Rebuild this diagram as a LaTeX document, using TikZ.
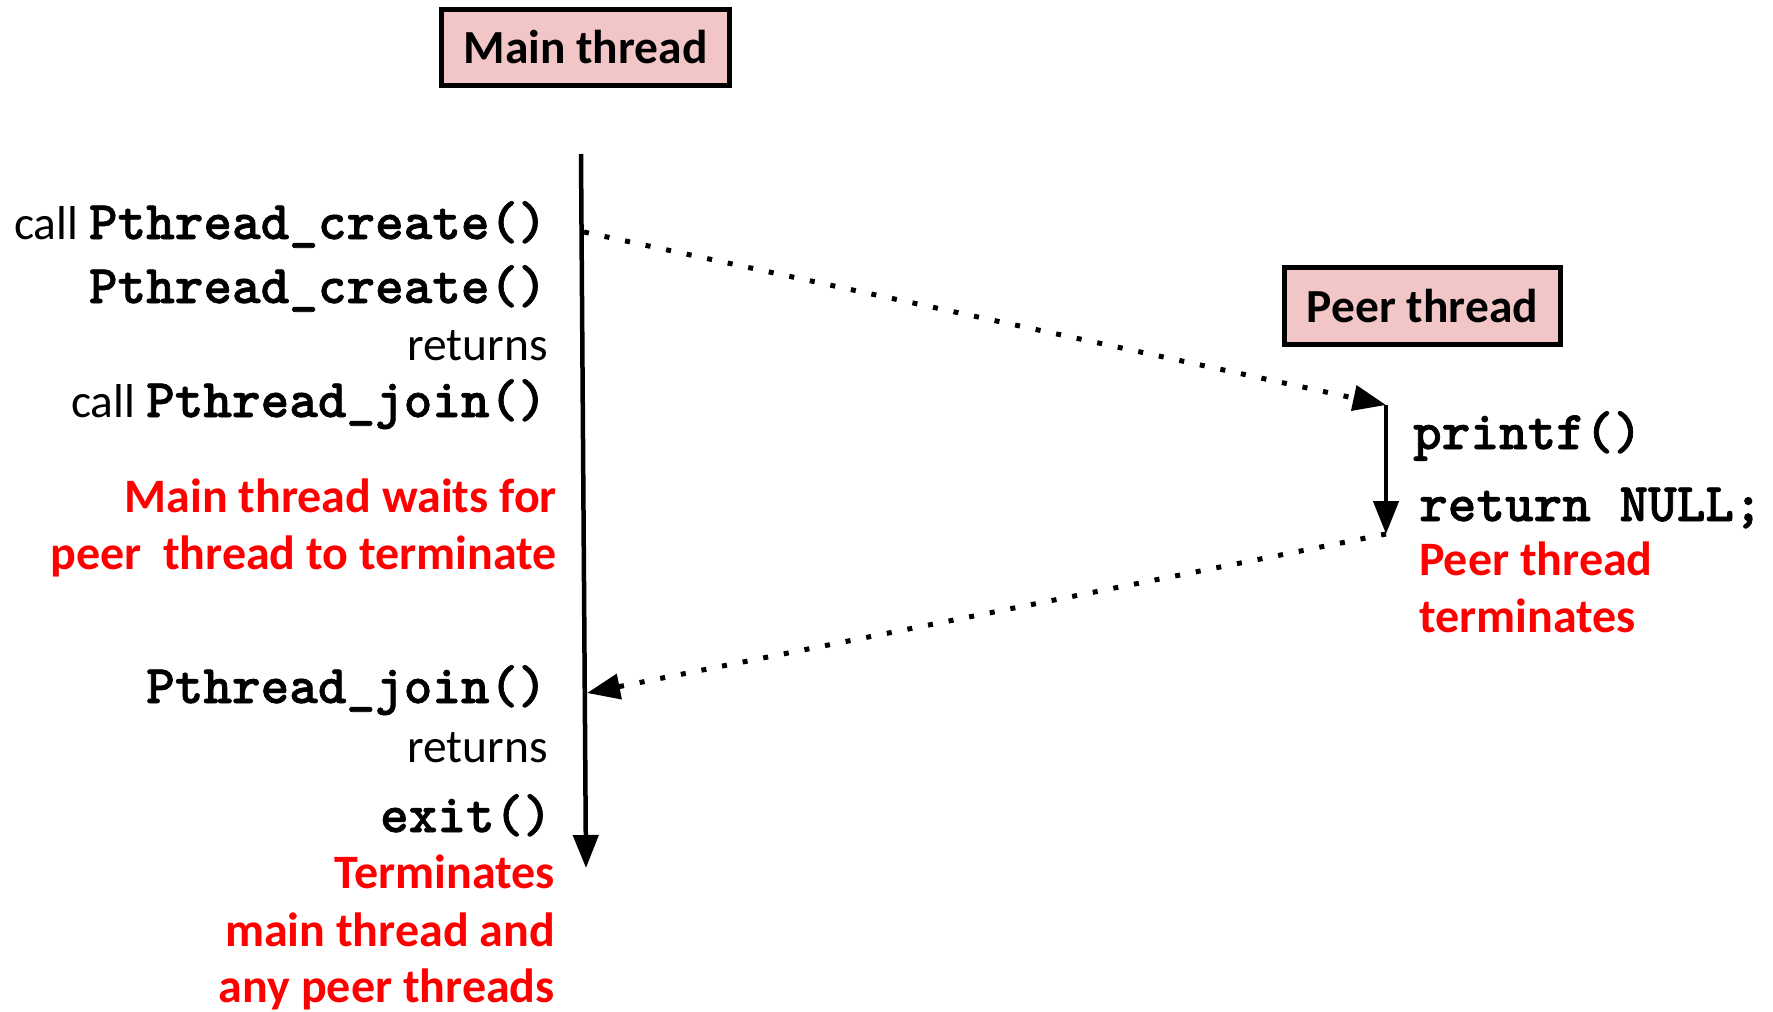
\documentclass[tikz,border=0pt]{standalone}
\usepackage{fontspec}
\setmainfont{Carlito}
\newfontfamily\codefam{lmmonolt10-bold.otf}[FakeBold=1.2]
\usetikzlibrary{arrows.meta}
\definecolor{boxpink}{RGB}{242,198,198}
\definecolor{tred}{RGB}{255,0,0}
\newcommand{\lblfont}{\fontsize{47.5}{58}\selectfont}
\newcommand{\notefont}{\fontsize{48}{58}\selectfont\bfseries}
\newcommand{\codefont}{\fontsize{54.5}{60}\selectfont\codefam}
\newcommand{\thbfont}{\fontsize{47.5}{58}\selectfont\bfseries}
\tikzset{
  lbl/.style={inner sep=0pt, font=\lblfont},
  code/.style={inner sep=0pt, font=\codefont},
  note/.style={inner sep=0pt, text=tred, font=\notefont},
  threadbox/.style={draw, line width=5pt, fill=boxpink, inner sep=0pt, font=\thbfont},
  flow/.style={line width=4.5pt, -{Triangle[length=33pt,width=25pt]}},
  msg/.style={flow, line width=5pt, dash pattern=on 5pt off 16pt}
}
\begin{document}
\begin{tikzpicture}[x=1pt,y=-1pt]
\useasboundingbox (0,0) rectangle (1773,1012);
% thread boxes
\node[threadbox, minimum width=288pt, minimum height=76pt] (mainbox) at (585.5,47.5) {Main thread};
\node[threadbox, minimum width=276pt, minimum height=77pt] (peerbox) at (1422.5,306) {Peer thread};
% time lines
\coordinate (mtop) at (581,154);
\coordinate (mbot) at (586,868);
\coordinate (mcreate) at (584,232);
\coordinate (mjoin) at (587,693);
\coordinate (ptop) at (1386,405);
\coordinate (pbot) at (1386,534);
\draw[flow] (mtop) -- (mbot);
\draw[flow] (ptop) -- (pbot);
\draw[msg] (mcreate) -- (ptop);
\draw[msg] (pbot) -- (mjoin);
% main thread labels
\node[lbl, anchor=base east] (l1) at (547,239) {call {\codefont Pthread\_create()}};
\node[code, anchor=base east] (l2) at (547,303) {Pthread\_create()};
\node[lbl, anchor=base east] (l3) at (548,360) {returns};
\node[lbl, anchor=base east] (l4) at (547,417) {call {\codefont Pthread\_join()}};
\node[note, anchor=base east] (l5) at (557,512) {Main thread waits for};
\node[note, anchor=base east] (l6) at (557,569) {peer\ \ thread to terminate};
\node[code, anchor=base east] (l7) at (547,703) {Pthread\_join()};
\node[lbl, anchor=base east] (l8) at (548,762) {returns};
\node[code, anchor=base east] (l9) at (552,832) {exit()};
\node[note, anchor=base east] (l10) at (555,888) {Terminates};
\node[note, anchor=base east] (l11) at (555,946) {main thread and};
\node[note, anchor=base east] (l12) at (555,1002) {any peer threads};
% peer thread labels
\node[code, anchor=base west] (r1) at (1413,449) {printf()};
\node[code, anchor=base west] (r2) at (1419,521) {return NULL;};
\node[note, anchor=base west] (r3) at (1419,575) {Peer thread};
\node[note, anchor=base west] (r4) at (1419,632) {terminates};
\end{tikzpicture}
\end{document}
